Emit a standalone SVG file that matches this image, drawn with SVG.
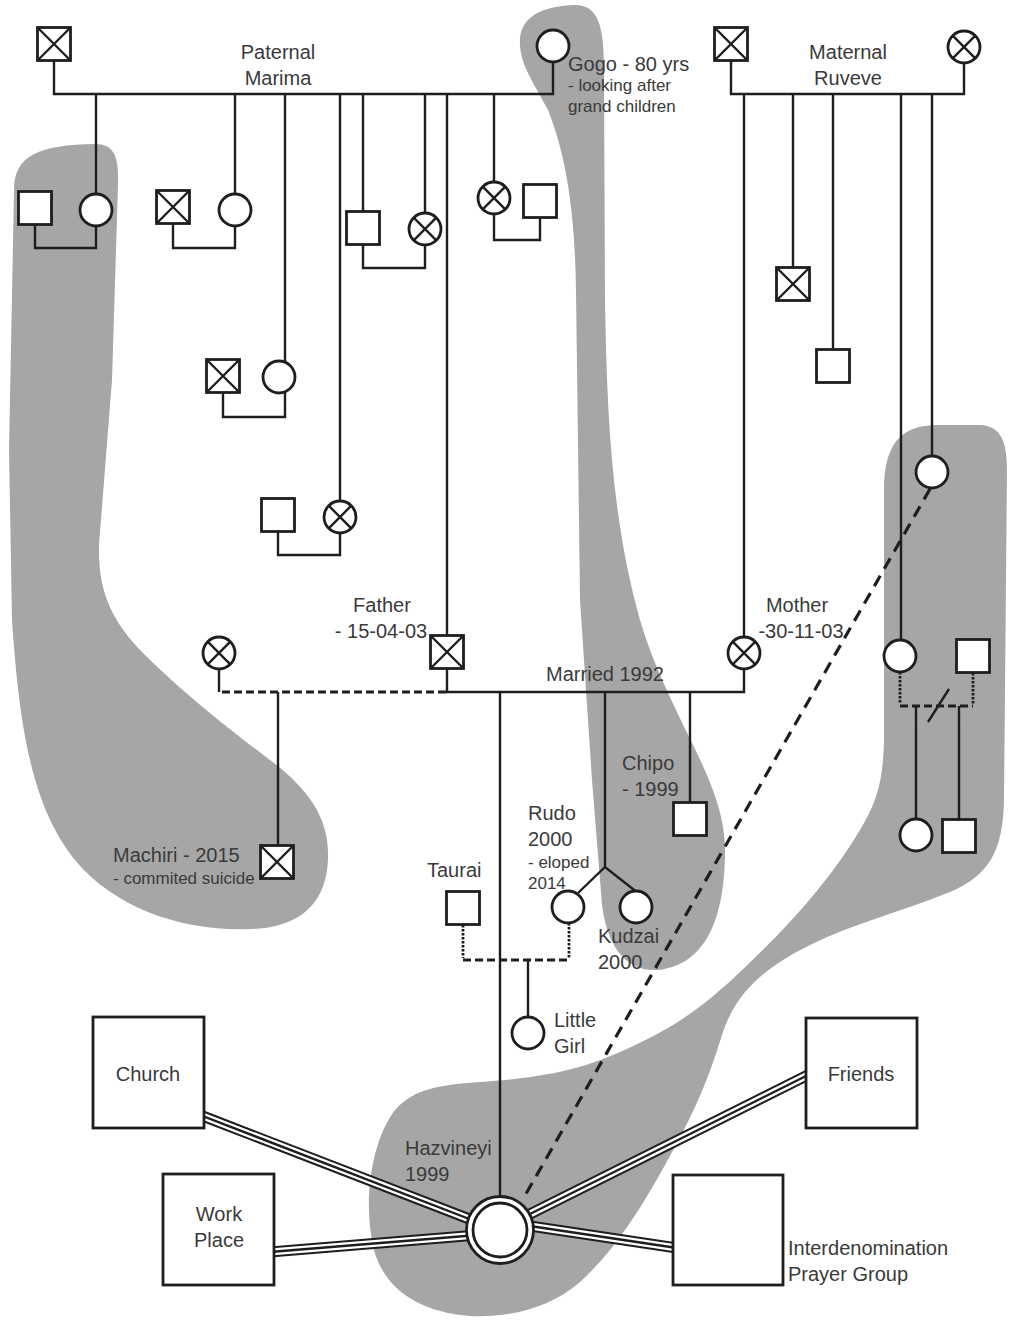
<svg xmlns="http://www.w3.org/2000/svg" width="1017" height="1325" viewBox="0 0 1017 1325">
<style>
.blob{fill:#a6a6a6;stroke:none}
.ln{fill:none;stroke:#1e1e1e;stroke-width:2.4}
.dash{fill:none;stroke:#1e1e1e;stroke-width:2.8;stroke-dasharray:8 4}
.dot{fill:none;stroke:#1e1e1e;stroke-width:2.8;stroke-dasharray:2.5 1.5}
.ldash{fill:none;stroke:#1e1e1e;stroke-width:3.2;stroke-dasharray:12 8}
.n{fill:#fff;stroke:#1e1e1e;stroke-width:2.8}
.x{stroke:#1e1e1e;stroke-width:2.4;fill:none}
.t1{fill:none;stroke:#1e1e1e;stroke-width:11}
.t2{fill:none;stroke:#fff;stroke-width:7}
.t3{fill:none;stroke:#1e1e1e;stroke-width:2.4}
text{font-family:"Liberation Sans",Arial,sans-serif;fill:#3a3a3a;font-size:20px}
.s{font-size:17px}
.m{text-anchor:middle}
</style>
<defs>
<g id="sq"><rect class="n" x="-16.5" y="-16.5" width="33" height="33"/></g>
<g id="xsq"><rect class="n" x="-16.5" y="-16.5" width="33" height="33"/><path class="x" d="M-16,-16L16,16M-16,16L16,-16"/></g>
<g id="ci"><circle class="n" r="16"/></g>
<g id="xci"><circle class="n" r="16"/><path class="x" d="M-11.3,-11.3L11.3,11.3M-11.3,11.3L11.3,-11.3"/></g>
</defs>

<g id="zones">
<path class="blob" d="M14,190 C14,155 40,145 95,144 C115,144 119,158 118,185 L112,380 L99,545 C98,590 110,620 145,655 C180,690 230,730 270,760 C310,790 330,820 328,860 C326,900 305,922 265,928 C200,935 120,915 75,860 C35,810 20,740 12,620 L9,450 Z"/>
<path class="blob" d="M520,45 C518,15 545,6 575,5 C598,5 604,25 604,70 L605,300 C607,420 612,520 640,620 C670,720 725,780 725,850 C725,920 705,965 658,970 C625,972 607,945 602,905 L592,780 L580,600 L576,290 C575,220 568,160 548,110 C532,80 521,65 520,45 Z"/>
<path class="blob" d="M884,490 C884,445 900,426 935,425 L980,425 C1000,426 1007,440 1007,470 L1004,800 C1003,850 990,875 950,892 C900,912 850,925 810,945 C760,970 735,995 722,1035 C705,1090 690,1120 665,1165 C640,1210 615,1250 580,1282 C550,1308 510,1318 470,1316 C420,1312 385,1290 374,1250 C362,1200 372,1140 395,1110 C415,1088 440,1085 480,1082 C540,1078 580,1070 620,1052 C670,1030 700,1010 740,972 C790,925 830,880 860,830 C878,800 883,780 884,740 Z"/>
</g>

<g id="connectors">
<path class="ln" d="M54,61V94H553V62"/>
<path class="ln" d="M96,94V194M235,94V194M285,94V362M340,94V501M363,94V212M425,94V213M447,94V636M494,94V182"/>
<path class="ln" d="M35,224V248H96V226M173,223V248H235V226M223,392V417H285V392M278,531V555H340V533M363,244V268H425V245M494,214V240H540V217"/>
<path class="ln" d="M731,61V94H964V63"/>
<path class="ln" d="M744,94V637M793,94V268M833,94V350M901,94V640M932,94V456"/>
<path class="ln" d="M447,668V692H744V669M219,668V692"/>
<path class="dash" d="M222,692H447"/>
<path class="ln" d="M278,692V846M500,692V1196M605,692V867M578,893L605,867L638,893M690,692V802"/>
<path class="dot" d="M463,925V958M569,923V958"/>
<path class="dash" d="M463,960H569"/>
<path class="ln" d="M528,960V1017"/>
<path class="dot" d="M900,672V704M973,673V704"/>
<path class="dash" d="M900,706H973"/>
<path class="ln" d="M928,722L949,689M916,706V819M959,706V820"/>
<path class="ldash" d="M930,489L523,1199"/>
<g id="road-church"><path class="t1" d="M200,1115L490,1227"/><path class="t2" d="M200,1115L490,1227"/><path class="t3" d="M200,1115L490,1227"/></g>
<g id="road-work"><path class="t1" d="M270,1252L490,1234"/><path class="t2" d="M270,1252L490,1234"/><path class="t3" d="M270,1252L490,1234"/></g>
<g id="road-friends"><path class="t1" d="M810,1074L510,1224"/><path class="t2" d="M810,1074L510,1224"/><path class="t3" d="M810,1074L510,1224"/></g>
<g id="road-prayer"><path class="t1" d="M510,1223L677,1248"/><path class="t2" d="M510,1223L677,1248"/><path class="t3" d="M510,1223L677,1248"/></g>
</g>

<g id="paternal-grandfather"><use href="#xsq" x="54" y="44"/><text class="m" x="278" y="59">Paternal</text><text class="m" x="278" y="85">Marima</text></g>
<g id="gogo"><use href="#ci" x="553" y="46"/><text x="568" y="71">Gogo - 80 yrs</text><text class="s" x="568" y="91">- looking after</text><text class="s" x="568" y="112">grand children</text></g>
<g id="p1-spouse"><use href="#sq" x="35" y="208"/></g>
<g id="p1"><use href="#ci" x="96" y="210"/></g>
<g id="p2-spouse"><use href="#xsq" x="173" y="207"/></g>
<g id="p2"><use href="#ci" x="235" y="210"/></g>
<g id="p3-spouse"><use href="#xsq" x="223" y="376"/></g>
<g id="p3"><use href="#ci" x="279" y="377"/></g>
<g id="p4-spouse"><use href="#sq" x="278" y="515"/></g>
<g id="p4"><use href="#xci" x="340" y="517"/></g>
<g id="p5"><use href="#sq" x="363" y="228"/></g>
<g id="p5-spouse"><use href="#xci" x="425" y="229"/></g>
<g id="p6"><use href="#xci" x="494" y="198"/></g>
<g id="p6-spouse"><use href="#sq" x="540" y="201"/></g>
<g id="father"><use href="#xsq" x="447" y="652"/><text class="m" x="382" y="612">Father</text><text class="m" x="381" y="638">- 15-04-03</text></g>
<g id="married"><text class="m" x="605" y="681">Married 1992</text></g>
<g id="maternal-grandfather"><use href="#xsq" x="731" y="44"/><text class="m" x="848" y="59">Maternal</text><text class="m" x="848" y="85">Ruveve</text></g>
<g id="maternal-grandmother"><use href="#xci" x="964" y="47"/></g>
<g id="m1"><use href="#xsq" x="793" y="284"/></g>
<g id="m2"><use href="#sq" x="833" y="366"/></g>
<g id="m3"><use href="#ci" x="932" y="472"/></g>
<g id="m4"><use href="#ci" x="900" y="656"/></g>
<g id="m4-spouse"><use href="#sq" x="973" y="656"/></g>
<g id="m4-child1"><use href="#ci" x="916" y="835"/></g>
<g id="m4-child2"><use href="#sq" x="959" y="836"/></g>
<g id="mother"><use href="#xci" x="744" y="653"/><text class="m" x="797" y="612">Mother</text><text class="m" x="801" y="638">-30-11-03</text></g>
<g id="father-partner"><use href="#xci" x="219" y="653"/></g>
<g id="machiri"><use href="#xsq" x="277" y="862"/><text x="113" y="862">Machiri - 2015</text><text class="s" x="113" y="884">- commited suicide</text></g>
<g id="chipo"><use href="#sq" x="690" y="819"/><text x="622" y="770">Chipo</text><text x="622" y="796">- 1999</text></g>
<g id="rudo"><use href="#ci" x="568" y="907"/><text x="528" y="820">Rudo</text><text x="528" y="846">2000</text><text class="s" x="528" y="868">- eloped</text><text class="s" x="528" y="889">2014</text></g>
<g id="kudzai"><use href="#ci" x="636" y="907"/><text x="598" y="943">Kudzai</text><text x="598" y="969">2000</text></g>
<g id="taurai"><use href="#sq" x="463" y="908"/><text x="427" y="877">Taurai</text></g>
<g id="little-girl"><use href="#ci" x="528" y="1033"/><text x="554" y="1027">Little</text><text x="554" y="1053">Girl</text></g>
<g id="hazvineyi"><circle class="n" cx="500" cy="1230" r="33.5"/><circle class="n" cx="500" cy="1230" r="27"/><text x="405" y="1155">Hazvineyi</text><text x="405" y="1181">1999</text></g>
<g id="church"><rect class="n" x="93" y="1017" width="111" height="111"/><text class="m" x="148" y="1081">Church</text></g>
<g id="workplace"><rect class="n" x="163" y="1174" width="111" height="111"/><text class="m" x="219" y="1221">Work</text><text class="m" x="219" y="1247">Place</text></g>
<g id="friends"><rect class="n" x="806" y="1018" width="111" height="110"/><text class="m" x="861" y="1081">Friends</text></g>
<g id="prayer-group"><rect class="n" x="673" y="1175" width="110" height="110"/><text x="788" y="1255">Interdenomination</text><text x="788" y="1281">Prayer Group</text></g>
</svg>
